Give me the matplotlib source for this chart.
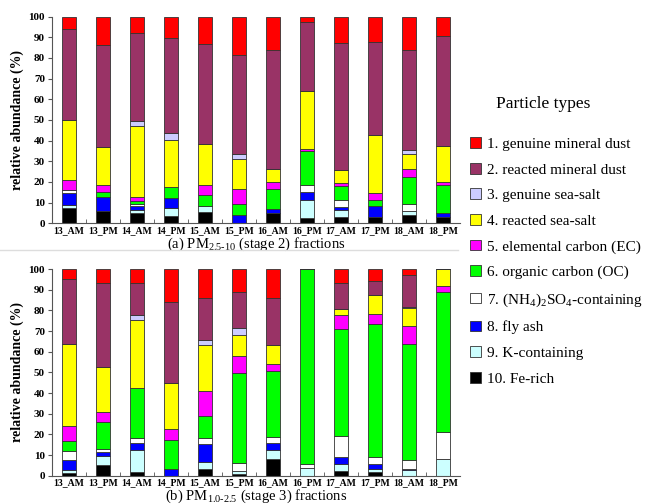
import numpy as np
import matplotlib
matplotlib.use('Agg')
import matplotlib.pyplot as plt
from matplotlib.patches import Patch
from matplotlib.lines import Line2D

plt.rcParams['font.family'] = ['Liberation Serif', 'DejaVu Serif']
plt.rcParams['mathtext.fontset'] = 'custom'
plt.rcParams['mathtext.rm'] = 'Liberation Serif'

samples = ['13_AM', '13_PM', '14_AM', '14_PM', '15_AM', '15_PM',
           '16_AM', '16_PM', '17_AM', '17_PM', '18_AM', '18_PM']

types = ['1. genuine mineral dust', '2. reacted mineral dust', '3. genuine sea-salt',
         '4. reacted sea-salt', '5. elemental carbon (EC)', '6. organic carbon (OC)',
         r'7. (NH$_\mathregular{4}$)$_\mathregular{2}$SO$_\mathregular{4}$-containing',
         '8. fly ash', '9. K-containing', '10. Fe-rich']
colors = ['#FF0000', '#993366', '#CCCCFF', '#FFFF00', '#FF00FF',
          '#00FF00', '#FFFFFF', '#0000FF', '#CCFFFF', '#000000']

# stage 2 (PM2.5-10), % per type, one list per type (1..10)
s2_gmd = [5.8, 13.9, 7.7, 10.5, 13.2, 18.5, 16.3, 2.6, 12.7, 12.4, 16.3, 9.4]
s2_rmd = [44.4, 49.0, 42.9, 45.6, 48.6, 48.1, 57.6, 33.5, 61.3, 44.7, 48.2, 53.2]
s2_gss = [0, 0, 2.1, 3.6, 0, 2.1, 0, 0, 0, 0, 2.0, 0]
s2_rss = [29.0, 18.7, 34.7, 22.9, 19.7, 14.5, 6.1, 27.8, 6.5, 28.2, 7.2, 17.6]
s2_ec = [4.7, 3.1, 2.0, 0, 5.0, 7.6, 3.4, 1.3, 1.4, 3.4, 3.9, 1.4]
s2_oc = [0, 2.7, 1.4, 5.3, 5.1, 5.2, 9.7, 16.4, 6.6, 3.1, 12.9, 13.6]
s2_nh4 = [1.3, 0, 0.8, 0, 0, 0, 0, 3.1, 3.4, 0, 3.5, 0]
s2_fly = [5.9, 6.5, 2.1, 4.8, 0, 4.0, 1.7, 4.0, 1.8, 5.0, 0, 1.7]
s2_k = [1.3, 0, 1.1, 3.6, 3.1, 0, 0, 8.7, 3.1, 0, 2.1, 0]
s2_fe = [7.6, 6.1, 5.2, 3.7, 5.3, 0, 5.2, 2.6, 3.2, 3.2, 3.9, 3.1]

# stage 3 (PM1.0-2.5)
s3_gmd = [4.7, 6.5, 6.5, 15.8, 14.2, 11.3, 14.2, 0, 6.8, 5.5, 2.7, 0]
s3_rmd = [31.3, 40.9, 15.6, 39.5, 20.3, 17.2, 22.6, 0, 12.6, 7.1, 15.5, 0]
s3_gss = [0, 0, 2.3, 0, 2.1, 3.3, 0, 0, 0, 0, 0.8, 0]
s3_rss = [40.0, 21.6, 33.3, 22.1, 22.4, 10.0, 9.3, 0, 3.0, 8.9, 8.7, 8.1]
s3_ec = [7.4, 4.9, 0, 5.3, 12.0, 8.7, 3.1, 0, 6.8, 5.1, 8.4, 3.2]
s3_oc = [4.5, 13.0, 23.8, 13.8, 10.5, 43.5, 31.8, 94.2, 51.4, 64.5, 56.5, 67.7]
s3_nh4 = [4.5, 1.5, 2.5, 0, 2.9, 3.6, 3.2, 1.8, 10.5, 3.4, 4.0, 13.1]
s3_fly = [4.9, 1.9, 3.3, 3.5, 8.7, 0, 3.2, 0, 3.3, 2.0, 0.7, 0]
s3_k = [1.2, 4.7, 10.8, 0, 3.4, 1.3, 4.5, 4.0, 3.2, 1.7, 2.7, 7.9]
s3_fe = [1.5, 5.0, 1.9, 0, 3.5, 1.1, 8.1, 0, 2.4, 1.8, 0, 0]

stage2 = [s2_gmd, s2_rmd, s2_gss, s2_rss, s2_ec, s2_oc, s2_nh4, s2_fly, s2_k, s2_fe]
stage3 = [s3_gmd, s3_rmd, s3_gss, s3_rss, s3_ec, s3_oc, s3_nh4, s3_fly, s3_k, s3_fe]

fig = plt.figure(figsize=(6.54, 5.04), dpi=100)
ax1 = fig.add_axes([0.0795, 0.557, 0.624, 0.41])
ax2 = fig.add_axes([0.0795, 0.056, 0.624, 0.41])

x = np.arange(len(samples))


def draw(ax, data, caption, cap_y):
    bottom = np.zeros(len(samples))
    # stack from Fe-rich (10) upward to genuine mineral dust (1)
    for i in range(len(data) - 1, -1, -1):
        vals = np.array(data[i], dtype=float)
        vals = np.where(bottom + vals > 100, 100 - bottom, vals)
        ax.bar(x, vals, 0.4, bottom=bottom, color=colors[i],
               edgecolor='#333333', linewidth=0.6)
        bottom += vals
    ax.set_xlim(-0.5, len(samples) - 0.5)
    ax.set_ylim(0, 100)
    ax.set_yticks(np.arange(0, 101, 10))
    ax.set_xticks(x)
    ax.set_xticklabels(samples)
    ax.set_xticks(np.arange(0.5, len(samples) - 0.5, 1), minor=True)
    ax.tick_params(axis='x', which='major', length=0, pad=2, labelsize=7)
    ax.tick_params(axis='x', which='minor', length=3, direction='in', color='#555555')
    ax.tick_params(axis='y', length=3, direction='out', labelsize=8, pad=2, color='#555555')
    for lab in ax.get_xticklabels() + ax.get_yticklabels():
        lab.set_fontweight('bold')
    for s in ['top', 'right']:
        ax.spines[s].set_visible(False)
    for s in ['left', 'bottom']:
        ax.spines[s].set_color('#555555')
        ax.spines[s].set_linewidth(0.8)
    ax.set_ylabel('relative abundance (%)', fontsize=10, fontweight='bold', labelpad=3)
    ax.text(0.5, cap_y, caption, transform=ax.transAxes, ha='center', va='center', fontsize=10.5)


draw(ax1, stage2, r'(a) PM$_\mathregular{2.5\text{-}10}$ (stage 2) fractions', -0.102)
draw(ax2, stage3, r'(b) PM$_\mathregular{1.0\text{-}2.5}$ (stage 3) fractions', -0.098)

fig.add_artist(Line2D([0.0, 0.70], [0.503, 0.503], color='#DDDDDD', linewidth=1.0))

fig.text(0.758, 1 - 104 / 504, 'Particle types', fontsize=12.5, ha='left', va='center')

handles = [Patch(facecolor=c, edgecolor='#333333', linewidth=0.6) for c in colors]
leg = fig.legend(handles, types, loc='upper left', bbox_to_anchor=(0.698, 0.755),
                 frameon=False, fontsize=11, labelspacing=0.78, handlelength=0.7,
                 handleheight=0.7, handletextpad=0.4)

fig.savefig('out.png', dpi=100)
